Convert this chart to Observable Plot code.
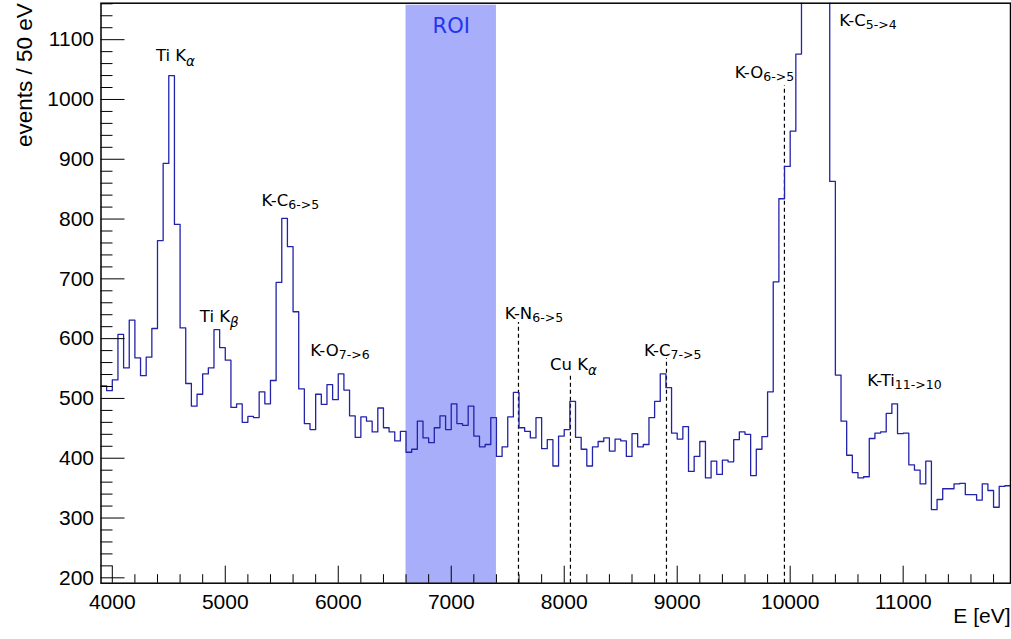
<!DOCTYPE html>
<html><head><meta charset="utf-8">
<script src="https://cdn.jsdelivr.net/npm/d3@7"></script>
<script src="https://cdn.jsdelivr.net/npm/@observablehq/plot@0.6"></script>
<style>body{margin:0;background:#fff}</style>
</head><body><div id="chart"></div>
<script>
// Histogram: 50 eV bins starting at 3900 eV
const binStart = 3900;
const binWidth = 50;
const counts = [
  521,513,531,607,551,631,568,538,569,617,
  764,893,1040,791,618,525,487,507,541,551,
  615,585,564,485,491,460,470,468,511,491,
  530,694,801,754,645,516,458,448,507,490,
  523,498,541,514,471,435,469,462,444,484,
  451,444,429,445,410,415,462,434,426,451,
  471,448,491,458,455,487,437,419,423,468,
  403,419,469,510,451,445,434,468,416,431,
  387,437,448,495,435,415,387,419,428,434,
  412,432,429,403,441,419,423,468,495,541,
  518,442,432,453,378,403,428,367,395,373,
  397,394,431,444,440,371,415,436,511,695,
  834,888,947,1076,1250,1600,1800,1550,1250,863,
  539,462,405,376,367,369,433,442,444,475,
  491,441,442,389,380,357,395,314,331,349,
  349,357,358,339,339,330,357,346,318,353,
  354
];
const xDomain = [3900, 11950];
const yDomain = [191, 1161];
const xMajor = [4000,5000,6000,7000,8000,9000,10000,11000];
const xMinor = [4200,4400,4600,4800,5200,5400,5600,5800,6200,6400,6600,6800,7200,7400,7600,7800,8200,8400,8600,8800,9200,9400,9600,9800,10200,10400,10600,10800,11200,11400,11600,11800];
const yMajor = [200,300,400,500,600,700,800,900,1000,1100];
const yMinor = [220,240,260,280,320,340,360,380,420,440,460,480,520,540,560,580,620,640,660,680,720,740,760,780,820,840,860,880,920,940,960,980,1020,1040,1060,1080,1120,1140,1160];
const roi = [{start: 6600, end: 7400, mid: 7000, top: 1123, label: "ROI"}];
// annotation labels: main text, subscript, greek flag, label centre (eV, counts)
const labelMain = ["Ti K", "Ti K", "K-C", "K-O", "K-N", "Cu K", "K-C", "K-O", "K-C", "K-Ti"];
const labelSub  = ["α", "β", "6->5", "7->6", "6->5", "α", "7->5", "6->5", "5->4", "11->10"];
const labelGreek = [1, 1, 0, 0, 0, 1, 0, 0, 0, 0];
const labelX = [4559, 4947, 5576, 6015, 7732, 8081, 8960, 9772, 10688, 11011];
const labelY = [1073, 637, 830, 580, 642, 557, 580, 1045, 1132, 530];
// dashed marker lines: energy and top of line
const lineE = [7595, 8055, 8905, 9949];
const lineTop = [627, 542, 567, 1023];

const hist = counts.map((c, i) => ({x: binStart + i * binWidth, y: c}));
hist.push({x: binStart + counts.length * binWidth, y: counts[counts.length - 1]});
const annotations = labelMain.map((m, i) => ({main: m, sub: labelSub[i], greek: labelGreek[i], x: labelX[i], y: labelY[i]}));
const markers = lineE.map((e, i) => ({x: e, top: lineTop[i]}));

const W = 1011, H = 639, mL = 100.5, mR = 1, mT = 2.7, mB = 56.3;
const plotW = W - mL - mR, plotH = H - mT - mB;

const plot = Plot.plot({
  width: W, height: H,
  marginLeft: mL, marginRight: mR, marginTop: mT, marginBottom: mB,
  x: {domain: xDomain},
  y: {domain: yDomain},
  style: {fontFamily: "'Liberation Sans', Arial, sans-serif", background: "white", color: "black"},
  marks: [
    Plot.rect(roi, {x1: "start", x2: "end", fill: "#a8aefa", insetTop: 2}),
    Plot.text(roi, {x: "mid", y: "top", text: "label", fill: "#2236ee", fontSize: 21, fontFamily: "'DejaVu Sans', sans-serif"}),
    Plot.ruleX(markers, {x: "x", y1: yDomain[0], y2: "top", stroke: "black", strokeWidth: 1.2, strokeDasharray: "4,3"}),
    Plot.line(hist, {x: "x", y: "y", curve: "step-after", stroke: "#2222aa", strokeWidth: 1.3, clip: true}),
    Plot.text(annotations, {x: "x", y: "y", text: d => d.main + "|" + d.sub + "|" + d.greek, fontSize: 16.5, fontFamily: "'DejaVu Sans', sans-serif", fill: "black"}),
    // inward ticks
    Plot.ruleX(xMajor, {x: d => d, insetTop: plotH - 17, stroke: "black", strokeWidth: 1}),
    Plot.ruleX(xMinor, {x: d => d, insetTop: plotH - 8.5, stroke: "black", strokeWidth: 1}),
    Plot.ruleY(yMajor, {y: d => d, insetRight: plotW - 24, stroke: "black", strokeWidth: 1}),
    Plot.ruleY(yMinor, {y: d => d, insetRight: plotW - 12, stroke: "black", strokeWidth: 1}),
    Plot.axisX({ticks: xMajor, tickSize: 0, tickPadding: 10.6, fontSize: 21, label: null, tickFormat: d => String(d)}),
    Plot.axisY({ticks: yMajor, tickSize: 0, tickPadding: 7, fontSize: 21, label: null, tickFormat: d => String(d)}),
    Plot.text(["events / 50 eV"], {frameAnchor: "top-left", text: d => d, rotate: -90, textAnchor: "end", dx: -85, dy: 0, fontSize: 22.5}),
    Plot.text(["E [eV]"], {frameAnchor: "bottom-right", text: d => d, textAnchor: "end", dy: 40, fontSize: 21}),
    Plot.frame({stroke: "black", strokeWidth: 1.5})
  ]
});

d3.select(plot).selectAll("text").each(function() {
  const t = d3.select(this);
  const s = t.text();
  if (!s.includes("|")) return;
  const parts = s.split("|");
  t.selectAll("*").remove();
  t.text(parts[0]);
  const greek = parts[2] === "1";
  t.append("tspan")
    .attr("font-size", greek ? 13.5 : 12.5)
    .attr("font-style", greek ? "italic" : null)
    .attr("dy", greek ? 5 : 3)
    .text(parts[1]);
});

document.getElementById("chart").appendChild(plot);
</script>
</body></html>
